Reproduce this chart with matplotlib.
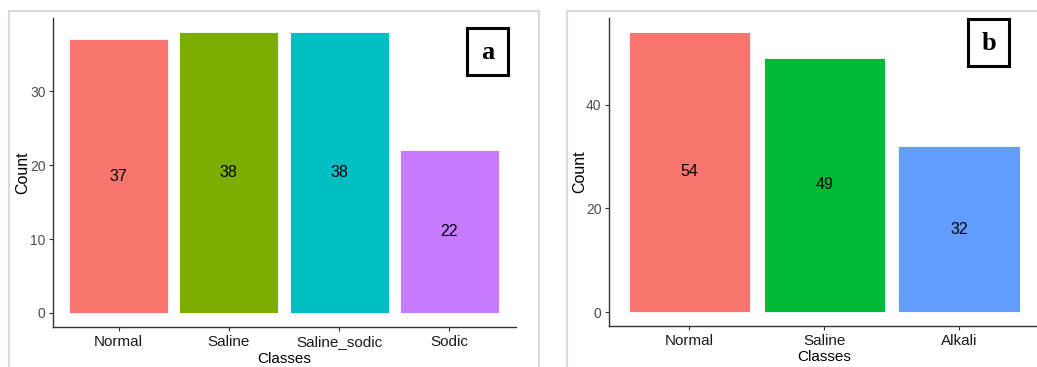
import matplotlib.pyplot as plt
from matplotlib.patches import Rectangle

plt.rcParams['font.family'] = ['Liberation Sans', 'DejaVu Sans']

# Soil class counts for the two datasets
classes_a = ['Normal', 'Saline', 'Saline_sodic', 'Sodic']
counts_a = [37, 38, 38, 22]
colors_a = ['#F8766D', '#7CAE00', '#00BFC4', '#C77CFF']

classes_b = ['Normal', 'Saline', 'Alkali']
counts_b = [54, 49, 32]
colors_b = ['#F8766D', '#00BA38', '#619CFF']

W, H = 1037, 367
fig = plt.figure(figsize=(W / 100, H / 100), dpi=100)


def px_box(x0, y0, x1, y1):
    # pixel box (top-left origin) -> figure fraction [l, b, w, h]
    return [x0 / W, 1 - y1 / H, (x1 - x0) / W, (y1 - y0) / H]


def panel(rect, classes, counts, colors, tag, tag_box, ylab_x, xlab_y, yticks):
    ax = fig.add_axes(rect)
    xs = range(len(classes))
    ax.bar(xs, counts, width=0.9, color=colors, edgecolor='white', linewidth=0.6)
    for x, c in zip(xs, counts):
        ax.text(x, c / 2, str(c), ha='center', va='center', fontsize=11.5, color='black')
    ax.set_xlim(-0.6, len(classes) - 0.4)
    top = max(counts)
    ax.set_ylim(-0.05 * top, 1.05 * top)
    ax.set_xticks(list(xs))
    ax.set_xticklabels(classes, fontsize=11, color='#1A1A1A')
    ax.set_yticks(yticks)
    ax.tick_params(axis='y', labelsize=10, labelcolor='#4D4D4D', colors='#333333',
                   length=3, width=0.8, pad=2)
    ax.tick_params(axis='x', colors='#333333', labelcolor='#1A1A1A',
                   length=3, width=0.8, pad=3)
    for s in ['top', 'right']:
        ax.spines[s].set_visible(False)
    for s in ['left', 'bottom']:
        ax.spines[s].set_color('#333333')
        ax.spines[s].set_linewidth(1.0)
    ax.set_xlabel('Classes', fontsize=11, color='black')
    ax.set_ylabel('Count', fontsize=11.5, color='black')
    ax.xaxis.set_label_coords(0.5, xlab_y)
    ax.xaxis.label.set_va('center')
    ax.yaxis.set_label_coords(ylab_x, 0.5)
    ax.yaxis.label.set_va('center')

    # panel tag in a boxed bold serif letter
    bx = fig.add_axes(px_box(*tag_box))
    bx.set_xticks([])
    bx.set_yticks([])
    for s in bx.spines.values():
        s.set_linewidth(2.2)
        s.set_color('black')
    bx.text(0.5, 0.47, tag, ha='center', va='center', fontsize=19, fontweight='bold',
            family='Liberation Serif', transform=bx.transAxes)
    return ax


# light grey outer frames around each panel
fig.add_artist(Rectangle((8.5 / W, 1 - 420 / H), 530 / W, 409 / H, transform=fig.transFigure,
                         fill=False, edgecolor='#DADADA', linewidth=1.5))
fig.add_artist(Rectangle((567 / W, 1 - 420 / H), 530 / W, 409 / H, transform=fig.transFigure,
                         fill=False, edgecolor='#DADADA', linewidth=1.5))

panel(px_box(52.5, 18, 515.5, 327), classes_a, counts_a, colors_a, 'a',
      (467, 28, 508, 75), -0.064, -0.104, [0, 10, 20, 30])
panel(px_box(608.5, 18, 1040, 326), classes_b, counts_b, colors_b, 'b',
      (968, 19, 1009, 66), -0.066, -0.102, [0, 20, 40])

fig.savefig('out.png', dpi=100)
